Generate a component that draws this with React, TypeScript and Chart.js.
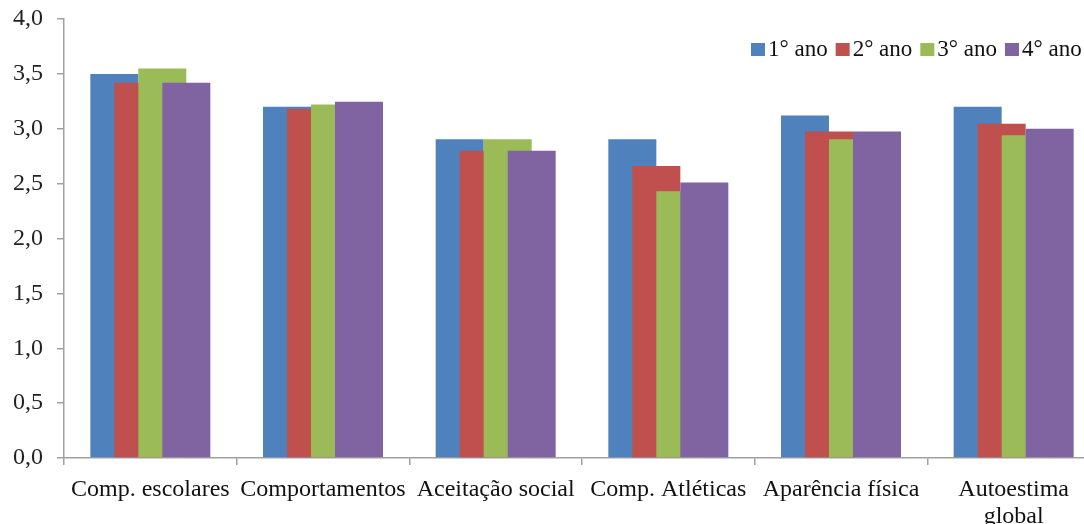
import React, { useEffect, useRef } from "react";
import { Chart, registerables } from "chart.js";

Chart.register(...registerables);

const categories: (string | string[])[] = [
  "Comp. escolares",
  "Comportamentos",
  "Aceitação social",
  "Comp. Atléticas",
  "Aparência física",
  ["Autoestima", "global"],
];
const seriesNames = ["1° ano", "2° ano", "3° ano", "4° ano"];
const ano1 = [3.5, 3.2, 2.905, 2.905, 3.12, 3.2];
const ano2 = [3.42, 3.18, 2.8, 2.66, 2.975, 3.045];
const ano3 = [3.55, 3.22, 2.905, 2.43, 2.905, 2.94];
const ano4 = [3.42, 3.245, 2.8, 2.51, 2.975, 3.0];
const colors = ["#4F81BD", "#C0504D", "#9BBB59", "#8064A2"];
const yTicks = [0, 0.5, 1, 1.5, 2, 2.5, 3, 3.5, 4];

const FONT = "'Liberation Serif', 'Times New Roman', serif";
const AXIS = "#a0a0a0";

const drawOrderPlugin = {
  id: "drawOrder",
  beforeDatasetsDraw(chart: any) {
    const metas = chart.getSortedVisibleDatasetMetas();
    for (const m of metas) chart._drawDataset(m);
    return false;
  },
};

const legendPlugin = {
  id: "customLegend",
  afterDraw(chart: any) {
    const ctx = chart.ctx;
    ctx.save();
    ctx.font = `23px ${FONT}`;
    ctx.textBaseline = "alphabetic";
    ctx.textAlign = "left";
    let x = 751;
    chart.data.datasets.forEach((ds: any) => {
      ctx.fillStyle = ds.backgroundColor;
      ctx.fillRect(x, 43, 14, 13);
      ctx.fillStyle = "#111";
      ctx.fillText(ds.label, x + 17, 56);
      x += 17 + ctx.measureText(ds.label).width + 8;
    });
    ctx.restore();
  },
};

export default function App() {
  const ref = useRef<HTMLCanvasElement | null>(null);
  useEffect(() => {
    if (!ref.current) return;
    const series = [ano1, ano2, ano3, ano4];
    const chart = new Chart(ref.current, {
      type: "bar",
      data: {
        labels: categories,
        datasets: series.map((d, i) => ({
          label: seriesNames[i],
          data: d,
          backgroundColor: colors[i],
          borderWidth: 0,
          categoryPercentage: 0.556,
          barPercentage: 2,
        })),
      },
      options: {
        responsive: false,
        animation: false,
        layout: { padding: { top: 19, right: 10, left: 0, bottom: 0 } },
        plugins: { legend: { display: false }, tooltip: { enabled: false } },
        scales: {
          x: {
            offset: true,
            grid: {
              offset: true,
              drawOnChartArea: false,
              drawTicks: true,
              tickLength: 7,
              color: AXIS,
              lineWidth: 1.5,
            },
            border: { color: AXIS, width: 1.5 },
            ticks: {
              color: "#111",
              font: { family: FONT, size: 24, lineHeight: 1.1 },
              padding: 12,
              maxRotation: 0,
              autoSkip: false,
            },
            afterFit: (s: any) => {
              s.height = 66;
              s.paddingLeft = 0;
              s.paddingRight = 0;
            },
          },
          y: {
            min: 0,
            max: 4,
            afterBuildTicks: (s: any) => {
              s.ticks = yTicks.map((v) => ({ value: v }));
            },
            grid: {
              drawOnChartArea: false,
              tickLength: 7,
              color: AXIS,
              lineWidth: 1.5,
            },
            border: { color: AXIS, width: 1.5 },
            ticks: {
              color: "#222",
              font: { family: FONT, size: 24 },
              padding: 14,
              callback: (v: any) => Number(v).toFixed(1).replace(".", ","),
            },
            afterFit: (s: any) => {
              s.width = 64;
              s.paddingTop = 0;
              s.paddingBottom = 0;
            },
          },
        },
      },
      plugins: [drawOrderPlugin, legendPlugin],
    });
    return () => chart.destroy();
  }, []);
  return (
    <div
      style={{
        position: "fixed",
        left: 0,
        top: 0,
        width: 1084,
        height: 524,
        overflow: "hidden",
        background: "#fff",
      }}
    >
      <canvas ref={ref} width={1110} height={524} style={{ display: "block" }} />
    </div>
  );
}
